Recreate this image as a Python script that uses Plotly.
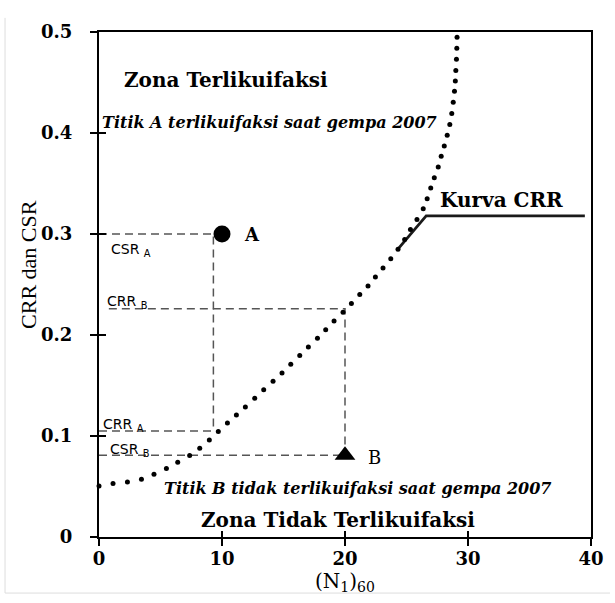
import plotly.graph_objects as go

# CRR curve (dotted)
crr_x = [0.00, 1.14, 2.31, 3.45, 4.47, 5.48, 6.40, 7.37, 8.19, 8.97, 9.70, 10.44, 11.17, 11.90,
         12.66, 13.39, 14.15, 14.88, 15.59, 16.32, 17.02, 17.76, 18.43, 19.11, 19.84, 20.52,
         21.20, 21.87, 22.47, 23.09, 23.72, 24.31, 24.85, 25.32, 25.85, 26.36, 26.68, 26.97,
         27.26, 27.58, 27.82, 28.07, 28.31, 28.52, 28.68, 28.80, 28.90, 28.97, 29.01, 29.06,
         29.09, 29.11]
crr_y = [0.0505, 0.0529, 0.0545, 0.0571, 0.0621, 0.0677, 0.0740, 0.0806, 0.0878, 0.0961,
         0.1044, 0.1129, 0.1208, 0.1287, 0.1373, 0.1459, 0.1541, 0.1624, 0.1710, 0.1796,
         0.1881, 0.1967, 0.2053, 0.2139, 0.2225, 0.2311, 0.2400, 0.2485, 0.2574, 0.2663,
         0.2756, 0.2849, 0.2945, 0.3044, 0.3143, 0.3250, 0.3350, 0.3456, 0.3557, 0.3664,
         0.3769, 0.3871, 0.3977, 0.4083, 0.4192, 0.4304, 0.4413, 0.4515, 0.4620, 0.4730,
         0.4838, 0.4947]

# "Kurva CRR" solid pointer line
kurva_x = [24.3, 26.6, 39.5]
kurva_y = [0.285, 0.318, 0.318]

# Points A and B
point_a_x = [10]
point_a_y = [0.30]
point_b_x = [20]
point_b_y = [0.081]

# Dashed guide lines (CSR_A, CRR_A, CRR_B, CSR_B)
guide_a_x = [0, 9.3, 9.3]
guide_a_y = [0.30, 0.30, 0.105]
guide_crra_x = [0, 9.3]
guide_crra_y = [0.105, 0.105]
guide_b_x = [0.8, 20, 20]
guide_b_y = [0.226, 0.226, 0.081]
guide_csrb_x = [0, 20]
guide_csrb_y = [0.081, 0.081]

x_ticks = [0, 10, 20, 30, 40]
y_ticks = [0, 0.1, 0.2, 0.3, 0.4, 0.5]
y_ticktext = ["0", "0.1", "0.2", "0.3", "0.4", "0.5"]

SERIF = "DejaVu Serif"
dash_style = dict(color="#555555", width=1.5, dash="8px,5px")

fig = go.Figure()
for gx, gy in [(guide_a_x, guide_a_y), (guide_crra_x, guide_crra_y),
               (guide_b_x, guide_b_y), (guide_csrb_x, guide_csrb_y)]:
    fig.add_trace(go.Scatter(x=gx, y=gy, mode="lines", line=dash_style,
                             hoverinfo="skip", showlegend=False))

fig.add_trace(go.Scatter(x=kurva_x, y=kurva_y, mode="lines",
                         line=dict(color="#1a1a1a", width=2.8), showlegend=False))
fig.add_trace(go.Scatter(x=crr_x, y=crr_y, mode="markers",
                         marker=dict(color="black", size=5), showlegend=False,
                         cliponaxis=False))
fig.add_trace(go.Scatter(x=point_a_x, y=point_a_y, mode="markers",
                         marker=dict(color="black", size=17, symbol="circle"), showlegend=False))
fig.add_trace(go.Scatter(x=point_b_x, y=point_b_y, mode="markers",
                         marker=dict(color="black", size=18, symbol="triangle-up"), showlegend=False))
# overlay axes for crossing (inside) ticks
fig.add_trace(go.Scatter(x=[None], y=[None], xaxis="x2", yaxis="y2", showlegend=False,
                         hoverinfo="skip"))

ann = []
def add(text, x, y, size, bold=True, italic=False, family=SERIF, xanchor="left"):
    t = text
    if italic:
        t = "<i>" + t + "</i>"
    if bold:
        t = "<b>" + t + "</b>"
    ann.append(dict(text=t, x=x, y=y, xref="x", yref="y", showarrow=False,
                    xanchor=xanchor, yanchor="middle",
                    font=dict(family=family, size=size, color="black")))

add("Zona Terlikuifaksi", 1.9, 0.452, 20)
add("Titik A terlikuifaksi saat gempa 2007", 0.1, 0.4105, 16, italic=True)
add("Kurva CRR", 27.6, 0.334, 20)
add("Titik B tidak terlikuifaksi saat gempa 2007", 5.1, 0.048, 16, italic=True)
add("Zona Tidak Terlikuifaksi", 8.1, 0.0165, 20)
add("A", 11.6, 0.300, 18)
add("B", 21.7, 0.079, 18, bold=False)

SANS = "DejaVu Sans"
add("CSR <sub>A</sub>", 0.8, 0.284, 14, bold=False, family=SANS)
add("CRR <sub>B</sub>", 0.45, 0.233, 14, bold=False, family=SANS)
add("CRR <sub>A</sub>", 0.15, 0.111, 14, bold=False, family=SANS)
add("CSR <sub>B</sub>", 0.7, 0.086, 14, bold=False, family=SANS)

# axis titles
ann.append(dict(text="(N<sub>1</sub>)<sub>60</sub>", x=0.5, y=-0.089, xref="paper", yref="paper",
                showarrow=False, xanchor="center", yanchor="middle",
                font=dict(family=SERIF, size=20, color="black")))
ann.append(dict(text="CRR dan CSR", x=-0.142, y=0.539, xref="paper", yref="paper",
                showarrow=False, xanchor="center", yanchor="middle", textangle=-90,
                font=dict(family="Liberation Serif", size=22, color="black")))

axis_common = dict(showgrid=False, zeroline=False)
fig.update_layout(
    width=615, height=603,
    margin=dict(l=99, r=24, t=32, b=66),
    paper_bgcolor="white", plot_bgcolor="white",
    annotations=ann,
    xaxis=dict(range=[0, 40], tickvals=x_ticks, showline=True, linecolor="black", linewidth=2,
               mirror=True, ticks="outside", ticklen=7, tickwidth=1.5, tickcolor="black",
               tickfont=dict(family=SERIF, size=18, color="black", weight="bold"),
               ticklabelstandoff=-3, **axis_common),
    yaxis=dict(range=[0, 0.5], tickvals=y_ticks, ticktext=y_ticktext, showline=True,
               linecolor="black", linewidth=2, mirror=True, ticks="outside", ticklen=7,
               tickwidth=1.5, tickcolor="black",
               tickfont=dict(family=SERIF, size=18, color="black", weight="bold"),
               ticklabelstandoff=14, **axis_common),
    xaxis2=dict(range=[0, 40], tickvals=x_ticks, overlaying="x", anchor="y2", side="bottom",
                ticks="inside", ticklen=6, tickwidth=1.5, tickcolor="black",
                showticklabels=False, showline=False, **axis_common),
    yaxis2=dict(range=[0, 0.5], tickvals=y_ticks, overlaying="y", anchor="x2", side="left",
                ticks="inside", ticklen=7, tickwidth=1.5, tickcolor="black",
                showticklabels=False, showline=False, **axis_common),
    shapes=[
        dict(type="line", xref="paper", yref="paper", x0=-0.191, x1=-0.191, y0=-0.111, y1=1.028,
             line=dict(color="#dddddd", width=1)),
        dict(type="line", xref="paper", yref="paper", x0=-0.191, x1=1.0386, y0=-0.111, y1=-0.111,
             line=dict(color="#dddddd", width=1)),
    ],
)

fig.write_html("out.html")
